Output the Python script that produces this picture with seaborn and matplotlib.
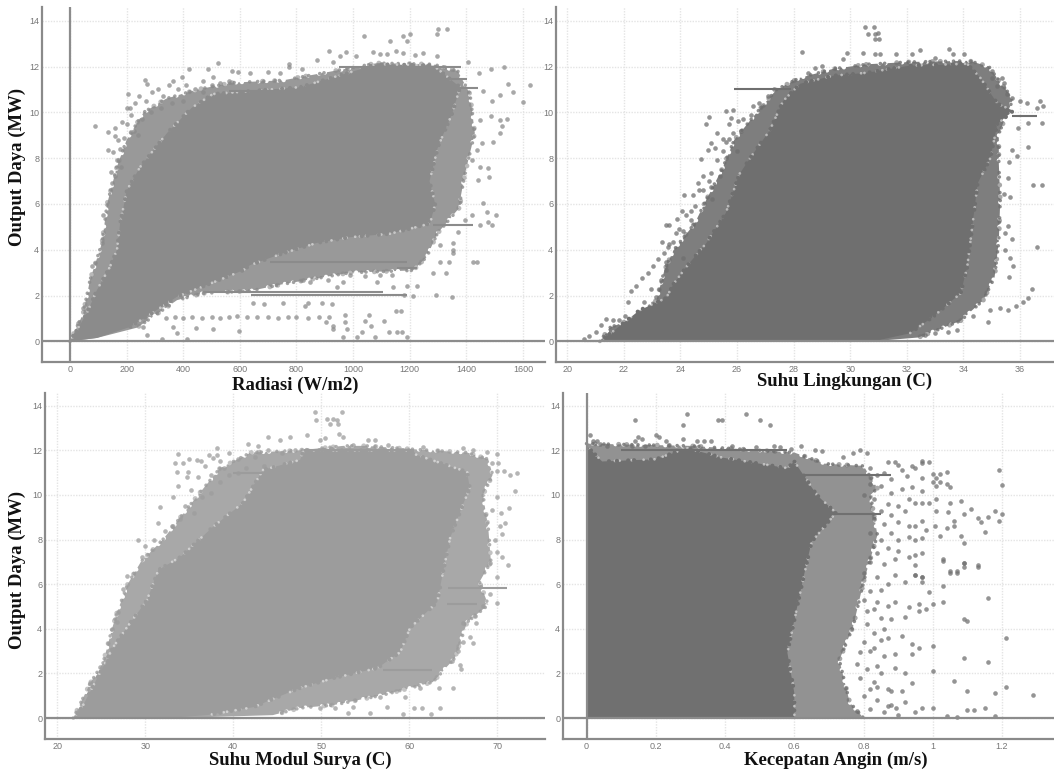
import matplotlib
matplotlib.use("Agg")
import matplotlib.pyplot as plt
import pandas as pd
import seaborn as sns

# axis ticks
rad_ticks = [0, 200, 400, 600, 800, 1000, 1200, 1400, 1600]
amb_ticks = [20, 22, 24, 26, 28, 30, 32, 34, 36]
mod_ticks = [20, 30, 40, 50, 60, 70]
wind_ticks = [0, 0.2, 0.4, 0.6, 0.8, 1, 1.2]
power_ticks = [0, 2, 4, 6, 8, 10, 12, 14]

# --- Radiasi ---
rad_core = [(0,0),(60,1.24),(95,2.24),(141,3.25),(166,4.0),(177,5.15),(201,6.6),(247,7.6),(343,9.1),
            (430,10.2),(505,10.8),(813,11.1),(990,11.75),(1085,12.1),(1283,12.05),(1378,11.1),(1350,9.95),(1300,8.5),
            (1270,7.0),(1290,6.0),(1272,5.15),(1226,5.0),(1130,4.7),(989,4.55),(872,4.3),(753,3.85),(636,3.33),
            (611,3.1),(470,2.4),(378,1.95),(307,1.37),(212,0.63),(95,0.15)]
rad_fringe = [(0,0),(46,1.2),(71,2.7),(113,4.3),(131,6.0),(165,7.6),(200,8.8),(260,10.0),(340,10.6),(450,11.0),(576,11.3),
              (753,11.4),(929,11.8),(1085,12.15),(1283,12.1),(1370,11.8),(1413,10.8),(1430,9.1),(1395,7.3),(1380,6.3),
              (1380,5.9),(1297,4.7),(1261,3.7),(1212,3.1),(989,3.0),(753,2.5),(636,2.2),(470,2.1),(378,1.8),(237,0.6),(95,0.15)]
rad_streak_y = [3.48, 3.2, 2.17, 2.02, 5.07, 11.47, 11.08, 12.0, 10.95]
rad_streak_lo = [707, 1155, 470, 640, 1283, 1283, 1300, 950, 560]
rad_streak_hi = [1190, 1225, 1107, 1190, 1425, 1403, 1440, 1380, 900]
rad_pts = [(88,9.4),(134,9.13),(159,9.3),(159,8.95),(170,8.8),(134,8.35),(152,8.27),(145,7.4),(184,9.58),(205,10.8),
           (201,10.2),(212,10.2),(265,11.4),(272,11.25),(364,11.35),(396,11.55),(420,11.9),(488,11.9),(523,12.15),
           (505,11.55),(572,11.8),(594,11.75),(636,11.7),(700,11.75),(774,12.1),(774,12.0),(742,11.7),(820,11.9),
           (873,12.3),(915,12.7),(954,12.45),(975,12.63),(929,12.2),(1011,12.45),(1039,13.35),(1071,12.63),(1095,12.55),
           (1120,12.55),(1152,12.7),(1131,13.1),(1177,13.35),(1191,13.1),(1201,13.4),(1177,12.6),(1219,12.5),(1247,12.6),
           (1297,12.45),(1297,13.4),(1300,13.65),(1332,13.65),(1406,12.2),(1445,11.7),(1488,11.9),(1534,12.0),(1548,11.25),
           (1565,10.9),(1625,11.2),(1601,10.45),(1519,10.75),(1544,9.73),(1519,9.65),(1526,9.4),(1519,9.12),(1495,8.7),
           (1488,9.83),(1449,9.65),(1456,8.65),(1449,7.6),(1477,7.55),(1481,7.17),(1442,7.04),(1420,7.9),(1438,8.35),
           (1459,10.95),(1491,10.5),(1459,6.03),(1473,5.65),(1505,5.5),(1477,5.2),(1491,5.07),(1449,5.07),(1420,5.5),
           (1396,5.3),(1371,4.77),(1353,4.28),(1353,3.98),(1353,3.85),(1307,4.2),(1307,3.48),(1339,3.48),(1424,3.48),
           (1438,3.48),(1283,3.0),(1329,3.0),(1293,2.03),(1350,1.93),(1226,2.42),(1191,2.42),(1212,1.98),(1180,2.03),
           (1191,0.2),(1078,0.2),(1014,0.2),(965,0.2),(1127,0.42),(1155,0.42),(1173,0.42),(1032,0.42),(1064,0.68),
           (1042,0.9),(1110,0.9),(1057,1.15),(1152,1.33),(1170,1.33),(972,1.15),(972,0.85),(979,0.53),(929,0.68),
           (929,0.53),(905,0.85),(926,1.63),(890,1.68),(841,1.68),(830,1.55),(753,1.68),(686,1.63),(647,1.68),
           (912,2.68),(965,2.6),(989,2.9),(1042,2.85),(1085,2.6),(1141,2.37),(1095,2.9),(1138,2.9),(823,2.68),
           (848,2.6),(943,2.37),(258,0.63),(272,0.28),(325,0.1),(364,0.63),(378,0.37),(413,0.1),(445,0.58),(505,0.53),
           (597,0.45),(78,3.28),(46,1.46),(28,0.8),(113,4.28),(117,5.5),
           (340,1.03),(370,1.05),(400,1.0),(430,1.08),(465,1.03),(500,1.08),(530,1.0),(560,1.05),(590,1.1),(625,1.05),
           (660,1.08),(700,1.05),(735,1.03),(770,1.08),(800,1.08),(840,1.03),(880,1.08),(915,1.08),
           (150,6.9),(165,7.9),(175,8.4),(190,8.9),(200,9.5),(215,9.9),(230,10.4),(245,10.7),(270,10.5),(290,10.9),
           (310,11.0),(330,10.7),(350,11.2),(380,11.0),(410,11.2),(440,11.0),(470,11.35),(500,11.2),(530,11.3),(560,11.35),
           (225,9.2),(255,9.7),(285,10.0),(320,10.2),(360,10.4),(400,10.5),(240,9.0),(180,7.6),(160,7.2),(470,10.9)]

# --- Suhu Lingkungan ---
amb_core = [(21.15,0),(21.66,0.48),(22.54,1.35),(23.5,1.9),(23.75,2.5),(24.3,3.4),(24.9,4.27),(25.6,5.6),(26.08,7.3),
            (26.57,8.2),(27.15,9.2),(27.63,10.5),(28.23,11.25),(29.4,11.6),(30.6,11.73),(32.1,12.04),(34.13,12.12),
            (34.6,11.5),(35.2,10.38),(35.76,10.07),(35.2,9.5),(34.95,8.0),(34.5,6.9),(34.35,5.4),(34.13,3.23),(33.9,2.1),
            (32.9,1.05),(32.1,0.35),(30.95,0.04)]
amb_fringe = [(21.15,0),(21.5,0.6),(22.44,1.05),(23.15,1.8),(23.43,3.1),(23.75,3.97),(24.5,5.15),(24.9,6.15),(25.5,7.6),
              (25.9,8.8),(26.7,10.0),(27.4,11.0),(28.2,11.5),(29.4,11.9),(30.6,12.1),(32.1,12.2),(34.2,12.25),
              (34.9,12.0),(35.3,11.3),(35.76,10.6),(35.25,9.07),(35.25,7.76),(35.3,6.15),(35.25,4.4),(35.1,2.8),(34.7,1.8),
              (33.9,0.9),(32.4,0.17),(30.95,0.02)]
amb_streak_y = [11.0, 9.86, 0.02]
amb_streak_lo = [25.9, 35.7, 20.6]
amb_streak_hi = [27.9, 36.6, 21.2]
amb_pts = [(20.6,0.09),(20.78,0.22),(21.02,0.39),(21.2,0.7),(21.38,0.96),(21.63,0.92),(21.84,0.92),(22.05,1.09),
           (22.26,2.22),(22.44,2.44),(22.65,2.75),(22.86,3.0),(23.04,3.31),(23.22,3.58),(23.4,3.84),(23.57,4.1),(23.75,4.32),
           (22.16,1.7),(22.72,1.7),(23.15,1.92),(22.97,2.27),(23.32,2.66),(23.5,3.1),(23.36,4.32),(23.6,4.27),(23.5,5.06),
           (23.6,5.06),(23.89,5.36),(24.06,5.71),(24.13,6.37),(24.45,6.37),(24.38,5.71),(24.38,5.28),(24.1,4.84),(23.85,4.75),
           (24.1,3.66),(23.5,3.45),(24.66,6.59),(24.63,6.93),(24.8,7.24),(25.09,7.37),(25.09,6.76),(24.73,7.98),(24.98,8.37),
           (25.09,8.68),(25.23,8.46),(25.3,9.11),(25.51,8.85),(25.72,8.85),(24.91,9.51),(25.02,9.81),(25.62,10.07),
           (25.87,10.12),(25.8,9.77),(25.72,9.51),(26.04,9.64),(26.57,10.29),(26.15,9.2),(26.78,10.42),
           (30.53,13.74),(30.85,13.74),(30.64,13.43),(30.88,13.43),(30.99,13.47),(30.88,13.2),(31.03,13.2),(28.3,12.65),
           (29.9,12.6),(30.46,12.6),(30.88,12.56),(31.06,12.56),(31.6,12.56),(32.19,12.56),(32.47,12.73),(33.5,12.78),
           (33.64,12.56),(34.03,12.56),(33.0,12.39),(29.75,12.34),(29.01,12.04),(28.76,11.95),(28.52,11.73),(35.02,11.82),
           (35.02,11.51),(35.37,11.51),(35.44,11.3),(35.19,11.16),(35.55,10.82),(35.72,10.64),(36.0,10.51),(36.25,10.42),
           (36.71,10.51),(36.82,10.29),(36.61,10.2),(36.78,9.55),(36.29,9.55),(35.94,9.33),(36.29,8.5),(35.72,8.37),
           (35.9,8.11),(35.62,7.85),(35.58,7.15),(36.47,6.85),(36.78,6.85),(35.65,6.32),(35.44,6.45),(35.58,5.02),
           (35.48,4.75),(35.72,4.49),(35.48,3.97),(36.61,4.14),(35.65,3.62),(35.76,3.27),(35.62,2.79),(36.43,2.27),
           (36.29,1.88),(36.11,1.7),(35.87,1.53),(35.58,1.35),(35.3,1.44),(34.95,1.35),(34.88,0.83),(33.78,0.48),
           (33.46,0.39),(33.0,0.35),(32.65,0.3),(34.35,1.13),
           (24.8,6.6),(25.0,7.0),(25.3,7.9),(25.5,8.3),(25.1,6.2),(25.6,8.7),(25.85,9.1),(26.2,9.7),(26.5,9.9),(26.9,10.3),
           (27.1,10.7),(24.5,5.9),(24.2,5.5),(23.95,4.9),(26.0,8.3),(25.4,7.2),(27.3,11.0)]

# --- Suhu Modul Surya ---
mod_core = [(21.82,0),(22.84,0.5),(26.36,3.18),(27.95,4.08),(30.2,5.29),(31.5,6.64),(34,7.22),(37.7,8.57),(41.1,9.64),
            (43.4,11.12),(47.6,11.57),(48,12.0),(60.45,12.0),(60.8,11.8),(63.2,11.48),(66.6,11.03),(66.9,10.3),(66.1,9.55),
            (64.66,8.07),(63.86,6.55),(63.2,5.2),(60.1,4.04),(59,2.96),(56.4,2.24),(51.4,1.79),(47.6,1.35),(42.3,0.49),
            (37,0.13),(32.5,0)]
mod_fringe = [(21.82,0),(23.75,1.57),(25.2,2.47),(26.25,4.04),(26.8,4.75),(28,6.0),(29.5,7.0),(32,8.0),(36,10.0),(38.5,11.2),
              (42,11.9),(47.6,12.0),(52.5,12.2),(55.2,12.2),(60.45,12.05),(66.6,11.9),(69,11.6),(69.5,10.9),(68.4,10),(69,8.52),
              (69.3,7.0),(68,6.1),(69,5.07),(66.6,4.3),(65.2,2.69),(62.7,1.61),(57,1.03),(51.4,0.58),(47.6,0.45),(44.5,0.13),(37,0.04)]
mod_streak_y = [5.83, 5.11, 2.15, 12.0, 11.0]
mod_streak_lo = [64.4, 64.3, 57, 48, 40]
mod_streak_hi = [71.1, 67.7, 62.6, 60.5, 47]
mod_pts = [(49.3,13.72),(52.4,13.72),(49.4,13.36),(50.7,13.41),(51.4,13.41),(51.8,13.36),(51,13.18),(51.9,13.18),
           (48.4,12.69),(52,12.74),(52.5,12.6),(50.45,12.56),(49.9,12.47),(55.3,12.47),(56.1,12.47),(57.6,12.24),
           (53.6,12.24),(61.6,12.15),(66.1,12.1),(67.3,12.0),(68.9,11.93),(70,11.84),(69.4,11.43),(70.1,11.43),
           (70.8,11.08),(71.5,10.9),(72.3,10.99),(70,11.08),(72,10.18),(70,9.91),(71.4,9.42),(70.45,9.19),(69.4,9.33),
           (70.3,8.61),(70.9,8.74),(70.6,8.25),(69.8,7.98),(70.6,7.22),(71.2,6.86),(70,7.44),(70,6.32),(69.2,6.95),
           (69.2,5.56),(70,5.16),(68.4,5.02),(67.5,4.57),(67.6,4.26),(66.1,4.26),(66.9,3.63),(67.3,3.36),(66.1,3.41),
           (65.6,3.0),(65.8,2.38),(65.9,2.2),(64.9,2.56),(65,1.35),(63.4,1.35),(63.5,0.45),(62.5,0.18),(60.5,0.45),
           (61.5,0.45),(59.3,0.18),(55.5,0.22),(53,0.22),(57.5,0.49),(56.7,0.94),(59.5,0.94),(61.2,1.35),(49.9,0.45),
           (53.6,0.49),(51.6,0.45),(33.75,11.84),(33.4,11.43),(34.3,11.43),(35,11.61),(35.9,11.57),(33.6,11.03),
           (34.9,11.03),(33.75,10.4),(33.2,9.91),(31.7,9.46),(38.2,12.1),(38.2,11.8),(41.7,12.29),(43.9,12.6),(45.3,12.47),
           (46.4,12.6),(42.8,12.2),(37.7,11.66),(31.4,8.74),(29.2,7.98),(26.9,4.75),(26.25,3.99),(26.8,4.3),(27.5,5.78),
           (27.95,6.37),(23.75,1.57),(25.1,1.35),(24.9,2.29),(25.7,2.47),
           (34.5,9.5),(35.2,10.2),(36,10.8),(36.8,11.3),(37.5,10.9),(38.5,11.5),(39.5,11.9),(40.5,11.6),(35.5,9.2),(36.5,9.9),
           (37.5,10.1),(38.5,10.6),(39.5,10.9),(40.5,11.0),(41.5,11.2),(42.5,11.7),(44,12.0),(33,8.6),(34,8.9),(32.2,8.4),
           (31,8.0),(30,7.7),(29.6,7.2),(43.5,11.3),(45.5,11.9),(47,12.0),(34.8,10.8),(36.3,11.5),(37.2,11.8),(39,11.2)]

# --- Kecepatan Angin ---
wind_core = [(0,12.2),(0.045,11.5),(0.2,11.6),(0.29,12.1),(0.39,11.68),(0.58,11.2),(0.6,11.5),(0.665,10.0),(0.72,9.2),
             (0.65,7.9),(0.625,6.2),(0.58,2.93),(0.6,1.13),(0.6,0),(0,0)]
wind_fringe = [(0,12.3),(0.3,12.2),(0.6,11.9),(0.69,11.4),(0.8,11.3),(0.84,10.3),(0.82,10),(0.84,8.2),(0.8,6.1),
               (0.77,4.1),(0.73,2.6),(0.76,0.7),(0.8,0),(0,0)]
wind_streak_y = [12.0, 10.9, 9.15]
wind_streak_lo = [0.1, 0.55, 0.6]
wind_streak_hi = [0.58, 0.88, 0.85]
wind_pts = [(0.01,12.67),(0.02,12.4),(0.03,12.4),(0.04,12.3),(0.06,12.2),(0.14,13.34),(0.14,12.4),(0.15,12.58),(0.16,12.53),
            (0.13,12.18),(0.17,12.18),(0.2,12.67),(0.21,12.62),(0.23,12.4),(0.29,13.65),(0.28,13.12),(0.28,12.53),(0.32,12.4),
            (0.34,12.44),(0.36,12.44),(0.38,13.34),(0.39,13.34),(0.46,13.65),(0.5,13.34),(0.53,13.12),(0.42,12.18),(0.49,12.13),
            (0.54,12.18),(0.56,12.13),(0.59,12.04),(0.62,12.18),(0.66,12.0),(0.68,11.95),(0.74,11.68),(0.77,11.86),(0.79,12.0),
            (0.81,11.86),(0.87,11.46),(0.89,11.46),(0.9,11.33),(0.94,11.28),(0.95,11.19),(0.97,11.5),(0.97,11.41),(0.99,11.46),
            (0.91,11.14),(0.925,10.83),(1.0,10.92),(1.02,10.92),(1.04,11.05),(1.01,10.78),(1.0,10.56),(1.02,10.6),(1.04,10.51),
            (1.01,10.38),(1.05,10.34),(1.19,11.1),(1.2,10.43),(0.97,10.78),(0.97,10.16),(0.94,10.34),(0.91,10.25),(0.93,9.84),
            (0.95,9.66),(0.97,9.62),(0.99,9.66),(1.01,9.8),(1.05,9.62),(1.08,9.75),(1.11,9.39),(1.09,9.13),(1.045,9.22),(1.01,9.26),
            (1.18,9.26),(1.2,9.13),(1.19,8.81),(1.16,8.99),(1.13,8.95),(1.14,8.77),(1.15,8.32),(1.06,8.81),(1.06,8.63),(1.005,8.59),
            (1.04,8.5),(1.02,8.14),(1.08,8.14),(1.09,7.83),(1.03,7.11),(1.09,6.97),(1.09,6.79),(1.13,6.79),(1.05,6.57),(1.07,6.57),
            (0.97,8.81),(0.95,8.59),(0.98,8.45),(0.95,8.0),(0.97,8.09),(0.97,7.42),(0.95,7.29),(0.93,7.2),(0.89,7.11),(0.95,6.88),
            (0.95,6.43),(0.97,6.3),(0.92,6.12),(0.89,6.43),(1.03,7.06),(1.09,6.93),(1.13,6.84),(1.05,6.52),(1.07,6.52),(1.03,5.94),
            (0.99,5.67),(0.97,6.3),(0.97,6.08),(0.95,6.43),(1.16,5.4),(1.03,5.22),(1.0,5.09),(0.96,5.13),(0.98,4.87),(0.96,4.82),
            (0.93,4.96),(0.92,4.55),(1.09,4.42),(1.1,4.37),(1.21,3.57),(0.91,3.66),(0.94,3.34),(0.96,3.16),(1.0,3.21),(0.94,2.89),
            (0.89,2.89),(1.09,2.67),(1.16,2.49),(1.0,2.13),(0.92,2.04),(0.89,2.26),(1.06,1.64),(0.94,1.55),(1.21,1.37),(1.1,1.19),
            (1.18,1.14),(1.29,1.01),(0.91,1.19),(0.88,1.23),(0.92,0.7),(0.97,0.43),(1.0,0.43),(1.1,0.38),(1.12,0.38),(1.15,0.43),
            (0.95,0.25),(1.04,0.11),(1.18,0.11),(1.07,0.03),(0.87,0.56),(0.895,0.47),(0.84,1.37),(0.82,1.28),(0.83,3.16),
            (0.84,2.31),(0.85,3.52),(0.79,2.94),(0.83,4.87),(0.88,4.42),(0.86,3.97),(0.89,5.18),(0.85,5.76),
            (0.82,11.2),(0.84,10.9),(0.86,11.0),(0.88,10.7),(0.82,10.5),(0.85,10.4),(0.88,10.1),(0.8,10.0),(0.83,9.8),(0.87,9.6),
            (0.9,9.5),(0.92,9.3),(0.88,9.1),(0.85,9.3),(0.83,8.9),(0.86,8.7),(0.9,8.8),(0.93,8.6),(0.88,8.3),(0.85,8.0),(0.82,8.3),
            (0.9,8.0),(0.93,8.1),(0.87,7.6),(0.84,7.4),(0.9,7.5),(0.82,7.0),(0.86,6.9),(0.8,6.5),(0.84,6.3),(0.87,6.0),(0.82,5.7),
            (0.8,5.3),(0.84,5.2),(0.87,5.0),(0.81,4.8),(0.85,4.5),(0.81,4.2),(0.83,3.8),(0.87,3.6),(0.8,3.4),(0.82,3.0),(0.86,2.8),
            (0.78,2.4),(0.81,2.2),(0.85,2.0),(0.79,1.8),(0.83,1.6),(0.87,1.3),(0.8,1.0),(0.84,0.8),(0.88,0.6),(0.82,0.4),(0.86,0.25),
            (0.9,0.15),(0.78,0.3)]

W, H = 1054, 773
sns.set_theme(style="whitegrid")
plt.rcParams["font.family"] = ["Liberation Sans", "DejaVu Sans"]
fig = plt.figure(figsize=(W / 100, H / 100), dpi=100)

BEADS = (0, (0.01, 1.7, 0.01, 3.1, 0.01, 1.2, 0.01, 4.3, 0.01, 2.2))
BIG_BEADS = (0.7, (0.01, 2.4, 0.01, 4.7, 0.01, 1.6, 0.01, 6.1))
BITES = (1.2, (0.01, 2.7, 0.01, 1.4, 0.01, 4.0, 0.01, 1.9))


def rough_edge(ax, outline, col):
    # scalloped edge along an outline, leaves out the closing side
    x, y = zip(*outline[:-1])
    ax.plot(x, y, color="white", lw=3, ls=BITES, dash_capstyle="round", zorder=3)
    ax.plot(x, y, color=col, lw=2.6, ls=BEADS, dash_capstyle="round", alpha=0.8, zorder=3)
    ax.plot(x, y, color=col, lw=3.6, ls=BIG_BEADS, dash_capstyle="round", alpha=0.6, zorder=3)


def panel(box, xlim, xticks, ylim, core, fringe, pts, streaks, col, fringe_col, vline=False):
    # box is left, top, right, bottom in pixels
    l, t, r, b = box
    ax = fig.add_axes([l / W, 1 - b / H, (r - l) / W, (b - t) / H])
    ax.set_xlim(xlim)
    ax.set_ylim(ylim)
    ax.set_xticks(xticks)
    ax.set_xticklabels([str(v) for v in xticks])
    ax.set_yticks(power_ticks)
    ax.grid(True, color="#e4e4e4", linestyle=(0, (1, 1)), linewidth=1)
    ax.set_axisbelow(True)
    ax.tick_params(labelsize=6.5, labelcolor="#777777", length=0, pad=2)

    fx, fy = zip(*fringe)
    ax.fill(fx, fy, color=fringe_col, lw=0, zorder=2)
    rough_edge(ax, fringe, col)
    cx, cy = zip(*core)
    ax.fill(cx, cy, color=col, lw=0, zorder=3.2)
    # light specks just outside the dense part
    ox, oy = zip(*core[:-1])
    ax.plot(ox, oy, color="white", lw=2, ls=BEADS, dash_capstyle="round", alpha=0.5, zorder=3.3)
    ax.plot(ox, oy, color=col, lw=3, ls=BITES, dash_capstyle="round", zorder=3.4)
    ax.hlines(streaks[0], streaks[1], streaks[2], color=col, lw=1.5, zorder=3.5)
    df = pd.DataFrame(pts, columns=["x", "y"])
    sns.scatterplot(data=df, x="x", y="y", ax=ax, color=col, s=11, alpha=0.75, linewidth=0, zorder=4)
    ax.set_xlabel("")
    ax.set_ylabel("")

    ax.axhline(0, color="#8c8c8c", lw=1.6, zorder=5)
    if vline:
        ax.axvline(0, color="#8c8c8c", lw=1.6, zorder=5)
    sns.despine(ax=ax)
    for s in ["left", "bottom"]:
        ax.spines[s].set_color("#8a8a8a")
        ax.spines[s].set_linewidth(1.6)
    return ax


panel((42, 7, 545, 362), (-99, 1678), rad_ticks, (-0.9, 14.6), rad_core, rad_fringe, rad_pts,
      (rad_streak_y, rad_streak_lo, rad_streak_hi), "#8b8b8b", "#999999", vline=True)
panel((556, 7, 1054, 362), (19.6, 37.2), amb_ticks, (-0.9, 14.6), amb_core, amb_fringe, amb_pts,
      (amb_streak_y, amb_streak_lo, amb_streak_hi), "#6f6f6f", "#7e7e7e")
panel((45, 393, 545, 739), (18.6, 75.45), mod_ticks, (-0.94, 14.57), mod_core, mod_fringe, mod_pts,
      (mod_streak_y, mod_streak_lo, mod_streak_hi), "#9c9c9c", "#a8a8a8")
panel((563, 393, 1054, 739), (-0.068, 1.35), wind_ticks, (-0.94, 14.57), wind_core, wind_fringe, wind_pts,
      (wind_streak_y, wind_streak_lo, wind_streak_hi), "#707070", "#929292", vline=True)

label_font = dict(family="Liberation Serif", fontweight="bold", fontsize=13.5, color="#111111",
                  ha="center", va="center")
fig.text(295 / W, 1 - 385 / H, "Radiasi (W/m2)", **label_font)
fig.text(845 / W, 1 - 381 / H, "Suhu Lingkungan (C)", **label_font)
fig.text(300 / W, 1 - 760 / H, "Suhu Modul Surya (C)", **label_font)
fig.text(836 / W, 1 - 760 / H, "Kecepatan Angin (m/s)", **label_font)
fig.text(17 / W, 1 - 167 / H, "Output Daya (MW)", rotation=90, **label_font)
fig.text(17 / W, 1 - 570 / H, "Output Daya (MW)", rotation=90, **label_font)

fig.savefig("out.png", dpi=100)
